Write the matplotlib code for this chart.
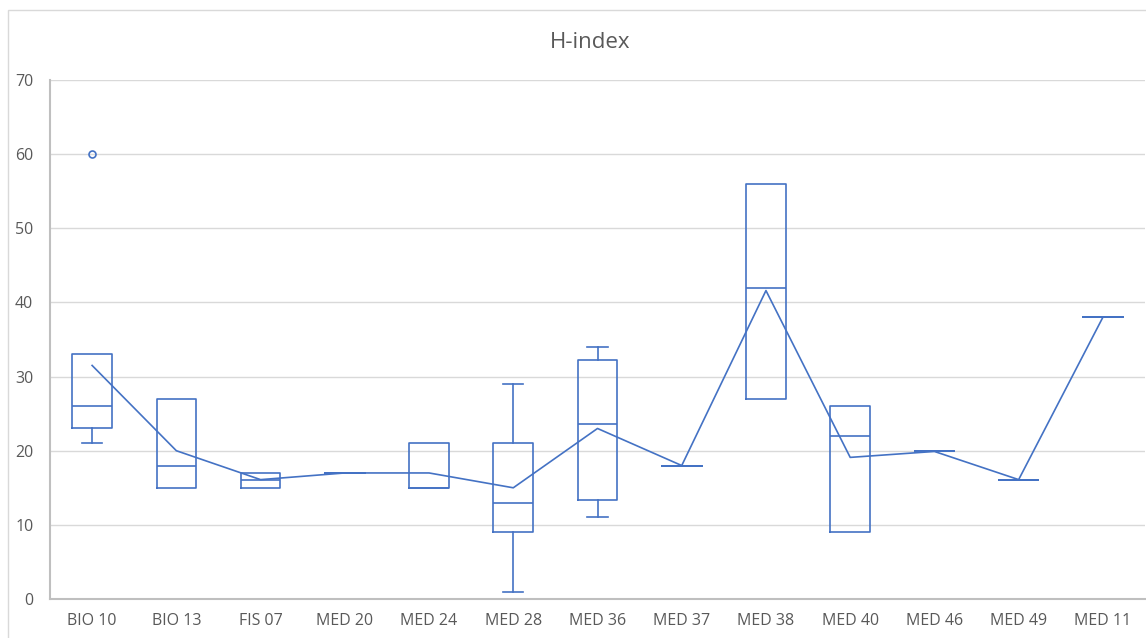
#!/usr/bin/env python3
"""H-index box and whisker chart (Excel style)."""

import matplotlib.pyplot as plt
from matplotlib.patches import Rectangle

# Data
groups = ["BIO 10", "BIO 13", "FIS 07", "MED 20", "MED 24", "MED 28", "MED 36",
          "MED 37", "MED 38", "MED 40", "MED 46", "MED 49", "MED 11"]
q1 = [23, 15, 15, 17, 15, 9, 13.3, 18, 27, 9, 20, 16, 38]
median = [26, 18, 16, 17, 15, 13, 23.6, 18, 42, 22, 20, 16, 38]
q3 = [33, 27, 17, 17, 21, 21, 32.2, 18, 56, 26, 20, 16, 38]
whisker_low = [21, 15, 15, 17, 15, 1, 11, 18, 27, 9, 20, 16, 38]
whisker_high = [33, 27, 17, 17, 21, 29, 34, 18, 56, 26, 20, 16, 38]
means = [31.5, 20, 16.1, 17, 17, 15, 23, 18, 41.6, 19.1, 19.9, 16.1, 38]
outliers = [[60], [], [], [], [], [], [], [], [], [], [], [], []]

BLUE = "#4472C4"
GRID = "#D9D9D9"
TEXT = "#595959"


def main():
    fig = plt.figure(figsize=(11.46, 6.38), dpi=100)
    ax = fig.add_axes([50 / 1146, 39 / 638, 1095 / 1146, 519 / 638])

    # Chart border (cropped on right/bottom)
    fig.patches.append(Rectangle((8 / 1146, -0.1), 1.2, (628 / 638) + 0.1,
                                 transform=fig.transFigure, fill=False,
                                 edgecolor="#D9D9D9", linewidth=1.0))

    stats = []
    for i in range(len(groups)):
        stats.append({
            "q1": q1[i], "med": median[i], "q3": q3[i],
            "whislo": whisker_low[i], "whishi": whisker_high[i],
            "fliers": outliers[i], "mean": means[i],
        })

    positions = list(range(len(groups)))
    line = dict(color=BLUE, linewidth=1.2)
    parts = ax.bxp(stats, positions=positions, widths=0.47, showmeans=False,
                   boxprops=line, medianprops=line, whiskerprops=line,
                   capprops=line, capwidths=0.24,
                   flierprops=dict(marker="o", markersize=5,
                                   markerfacecolor="none",
                                   markeredgecolor=BLUE, markeredgewidth=1.2))

    # Excel draws no cap when the whisker has zero length
    for i in range(len(groups)):
        if whisker_low[i] == q1[i]:
            parts["caps"][2 * i].set_visible(False)
            parts["whiskers"][2 * i].set_visible(False)
        if whisker_high[i] == q3[i]:
            parts["caps"][2 * i + 1].set_visible(False)
            parts["whiskers"][2 * i + 1].set_visible(False)

    # Mean line
    ax.plot(positions, means, color=BLUE, linewidth=1.2, zorder=3)

    ax.set_xlim(-0.5, len(groups) - 0.5)
    ax.set_ylim(0, 70)
    ax.set_yticks(range(0, 71, 10))
    ax.set_xticks(positions)
    ax.set_xticklabels(groups)

    ax.grid(True, axis="y", color=GRID, linewidth=1.0, zorder=0)
    ax.set_axisbelow(True)
    for side in ["top", "right"]:
        ax.spines[side].set_visible(False)
    ax.spines["left"].set_color("#BFBFBF")
    ax.spines["left"].set_linewidth(1.5)
    ax.spines["bottom"].set_color("#BFBFBF")
    ax.spines["bottom"].set_linewidth(1.5)
    ax.tick_params(length=0, colors=TEXT, labelsize=11.5, pad=10)
    ax.tick_params(axis="y", pad=12)
    for lab in ax.get_xticklabels() + ax.get_yticklabels():
        lab.set_fontfamily("Open Sans")

    fig.text(590 / 1146, 1 - 43 / 638, "H-index", ha="center", va="center",
             fontsize=16, color=TEXT, fontfamily="Open Sans")

    fig.savefig("out.png", dpi=100, facecolor="white")
    plt.close(fig)


if __name__ == "__main__":
    main()
